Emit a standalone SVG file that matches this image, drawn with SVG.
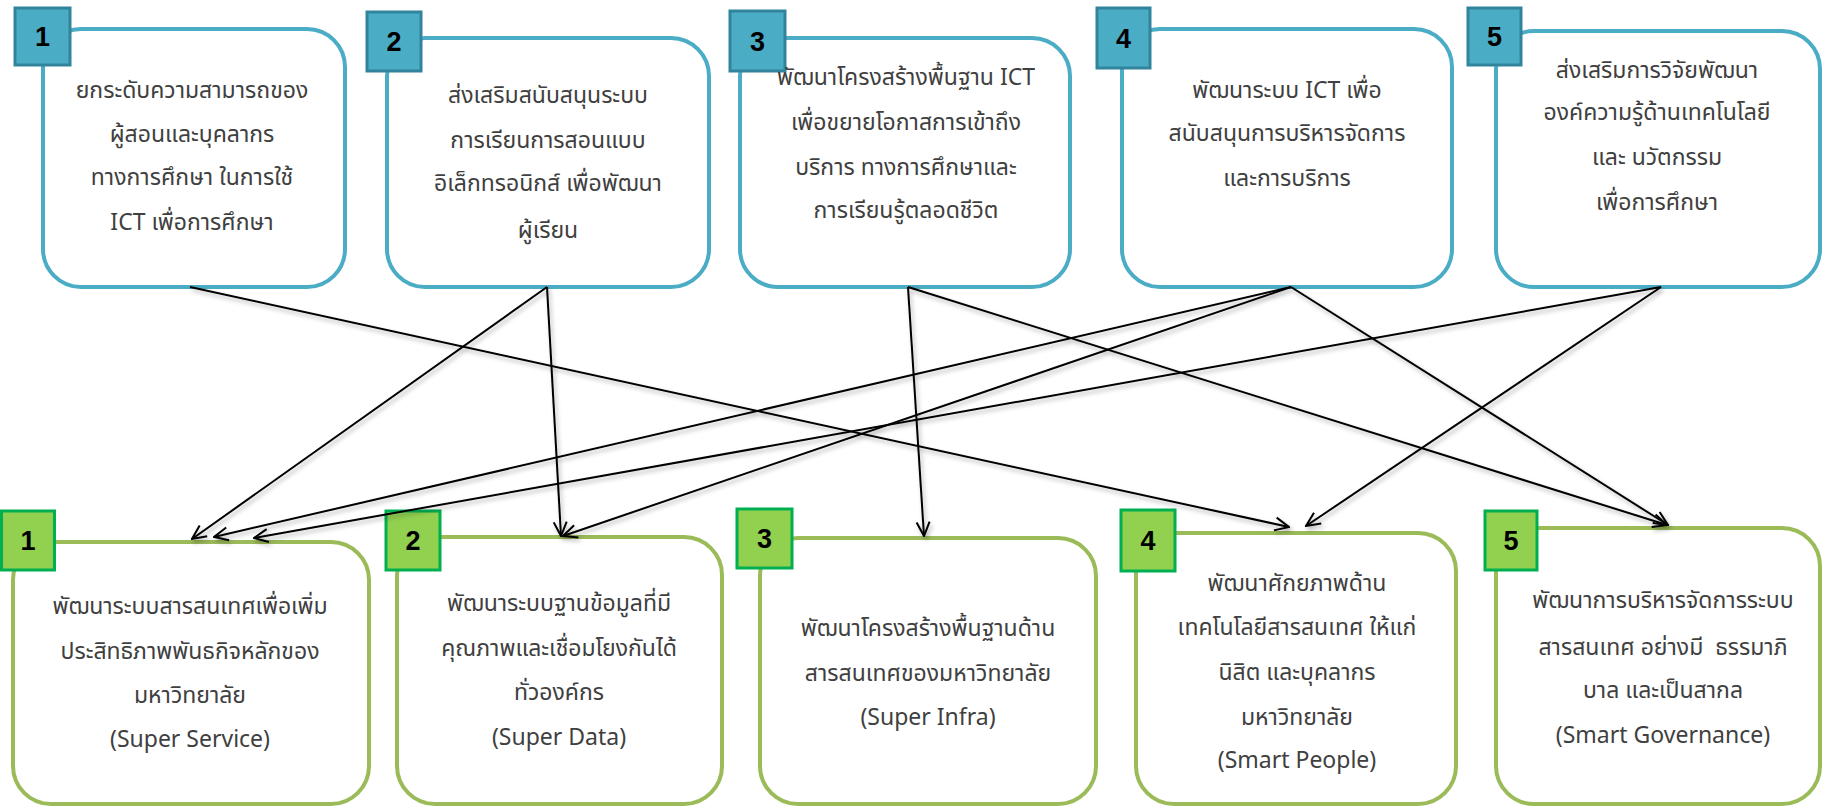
<svg xmlns="http://www.w3.org/2000/svg" width="1823" height="809" viewBox="0 0 1823 809">
<style>
.bg{fill:#ffffff}
.top{fill:#ffffff;stroke:#4BACC6;stroke-width:4}
.bot{fill:#ffffff;stroke:#9BBB59;stroke-width:4}
.tb{fill:#4BACC6;stroke:#31849B;stroke-width:3}
.bb{fill:#92D050;stroke:#00B050;stroke-width:3}
.num{font-family:"Liberation Sans",Arial,sans-serif;font-weight:bold;font-size:27px;fill:#000;text-anchor:middle}
.t{font-family:"Noto Sans","Noto Sans Thai","DejaVu Sans",sans-serif;font-size:23px;fill:#404040;text-anchor:middle}
.c{fill:none;stroke:#000;stroke-width:2}
</style>
<defs>
<marker id="arr" viewBox="0 0 16 16" refX="15" refY="8" markerWidth="16" markerHeight="16" markerUnits="userSpaceOnUse" orient="auto">
<path d="M1,1.5 L15,8 L1,14.5" fill="none" stroke="#000" stroke-width="2"/>
</marker>
<filter id="sh" x="-5%" y="-5%" width="110%" height="110%">
<feDropShadow dx="2" dy="3" stdDeviation="2" flood-color="#000" flood-opacity="0.3"/>
</filter>
</defs>
<rect class="bg" x="0" y="0" width="1823" height="809"/>

<g id="top1">
<rect class="top" x="43" y="29" width="302" height="258" rx="38"/>
<rect class="tb" x="15" y="8" width="55" height="57"/>
<text class="num" x="42.5" y="46">1</text>
<text class="t" x="192" y="98">ยกระดับความสามารถของ</text>
<text class="t" x="192" y="142">ผู้สอนและบุคลากร</text>
<text class="t" x="192" y="185">ทางการศึกษา ในการใช้</text>
<text class="t" x="192" y="230">ICT เพื่อการศึกษา</text>
</g>
<g id="top2">
<rect class="top" x="387" y="38" width="322" height="249" rx="38"/>
<rect class="tb" x="367" y="12" width="54" height="59"/>
<text class="num" x="394" y="51">2</text>
<text class="t" x="548" y="103">ส่งเสริมสนับสนุนระบบ</text>
<text class="t" x="548" y="148">การเรียนการสอนแบบ</text>
<text class="t" x="548" y="191">อิเล็กทรอนิกส์ เพื่อพัฒนา</text>
<text class="t" x="548" y="238">ผู้เรียน</text>
</g>
<g id="top3">
<rect class="top" x="740" y="38" width="330" height="249" rx="38"/>
<rect class="tb" x="730" y="11" width="55" height="60"/>
<text class="num" x="757.5" y="51">3</text>
<text class="t" x="906" y="85">พัฒนาโครงสร้างพื้นฐาน ICT</text>
<text class="t" x="906" y="130">เพื่อขยายโอกาสการเข้าถึง</text>
<text class="t" x="906" y="175">บริการ ทางการศึกษาและ</text>
<text class="t" x="906" y="218">การเรียนรู้ตลอดชีวิต</text>
</g>
<g id="top4">
<rect class="top" x="1122" y="29" width="330" height="258" rx="38"/>
<rect class="tb" x="1097" y="8" width="53" height="60"/>
<text class="num" x="1123.5" y="48">4</text>
<text class="t" x="1287" y="98">พัฒนาระบบ ICT เพื่อ</text>
<text class="t" x="1287" y="141">สนับสนุนการบริหารจัดการ</text>
<text class="t" x="1287" y="186">และการบริการ</text>
</g>
<g id="top5">
<rect class="top" x="1496" y="31" width="324" height="256" rx="38"/>
<rect class="tb" x="1468" y="8" width="53" height="57"/>
<text class="num" x="1494.5" y="46">5</text>
<text class="t" x="1657" y="78">ส่งเสริมการวิจัยพัฒนา</text>
<text class="t" x="1657" y="120">องค์ความรู้ด้านเทคโนโลยี</text>
<text class="t" x="1657" y="165">และ นวัตกรรม</text>
<text class="t" x="1657" y="210">เพื่อการศึกษา</text>
</g>

<g id="bot1">
<rect class="bot" x="13" y="542" width="356" height="262" rx="38"/>
<rect class="bb" x="1.5" y="511" width="53" height="59"/>
<text class="num" x="28" y="550">1</text>
<text class="t" x="190" y="614">พัฒนาระบบสารสนเทศเพื่อเพิ่ม</text>
<text class="t" x="190" y="659">ประสิทธิภาพพันธกิจหลักของ</text>
<text class="t" x="190" y="703">มหาวิทยาลัย</text>
<text class="t" x="190" y="747">(Super Service)</text>
</g>
<g id="bot2">
<rect class="bot" x="397" y="537" width="325" height="267" rx="38"/>
<rect class="bb" x="386" y="511" width="54" height="59"/>
<text class="num" x="413" y="550">2</text>
<text class="t" x="559" y="611">พัฒนาระบบฐานข้อมูลที่มี</text>
<text class="t" x="559" y="656">คุณภาพและเชื่อมโยงกันได้</text>
<text class="t" x="559" y="700">ทั่วองค์กร</text>
<text class="t" x="559" y="745">(Super Data)</text>
</g>
<g id="bot3">
<rect class="bot" x="760" y="538" width="336" height="266" rx="38"/>
<rect class="bb" x="737" y="509" width="55" height="59"/>
<text class="num" x="764.5" y="548">3</text>
<text class="t" x="928" y="636">พัฒนาโครงสร้างพื้นฐานด้าน</text>
<text class="t" x="928" y="681">สารสนเทศของมหาวิทยาลัย</text>
<text class="t" x="928" y="725">(Super Infra)</text>
</g>
<g id="bot4">
<rect class="bot" x="1136" y="533" width="320" height="271" rx="38"/>
<rect class="bb" x="1121" y="510" width="54" height="61"/>
<text class="num" x="1148" y="550">4</text>
<text class="t" x="1297" y="591">พัฒนาศักยภาพด้าน</text>
<text class="t" x="1297" y="635">เทคโนโลยีสารสนเทศ ให้แก่</text>
<text class="t" x="1297" y="680">นิสิต และบุคลากร</text>
<text class="t" x="1297" y="725">มหาวิทยาลัย</text>
<text class="t" x="1297" y="768">(Smart People)</text>
</g>
<g id="bot5">
<rect class="bot" x="1496" y="528" width="324" height="276" rx="38"/>
<rect class="bb" x="1485" y="511" width="52" height="59"/>
<text class="num" x="1511" y="550">5</text>
<text class="t" x="1663" y="608">พัฒนาการบริหารจัดการระบบ</text>
<text class="t" x="1663" y="655" xml:space="preserve">สารสนเทศ อย่างมี  ธรรมาภิ</text>
<text class="t" x="1663" y="698">บาล และเป็นสากล</text>
<text class="t" x="1663" y="743">(Smart Governance)</text>
</g>

<g id="connectors" filter="url(#sh)">
<path class="c" d="M190,287 L1289,527" marker-end="url(#arr)"/>
<path class="c" d="M547,287 L192,539" marker-end="url(#arr)"/>
<path class="c" d="M547,287 L561,536" marker-end="url(#arr)"/>
<path class="c" d="M908,287 L924,536" marker-end="url(#arr)"/>
<path class="c" d="M908,287 L1667,525" marker-end="url(#arr)"/>
<path class="c" d="M1291,287 L214,537" marker-end="url(#arr)"/>
<path class="c" d="M1291,287 L563,536" marker-end="url(#arr)"/>
<path class="c" d="M1291,287 L1668,525" marker-end="url(#arr)"/>
<path class="c" d="M1661,287 L254,538" marker-end="url(#arr)"/>
<path class="c" d="M1661,287 L1306,526" marker-end="url(#arr)"/>
</g>
</svg>
